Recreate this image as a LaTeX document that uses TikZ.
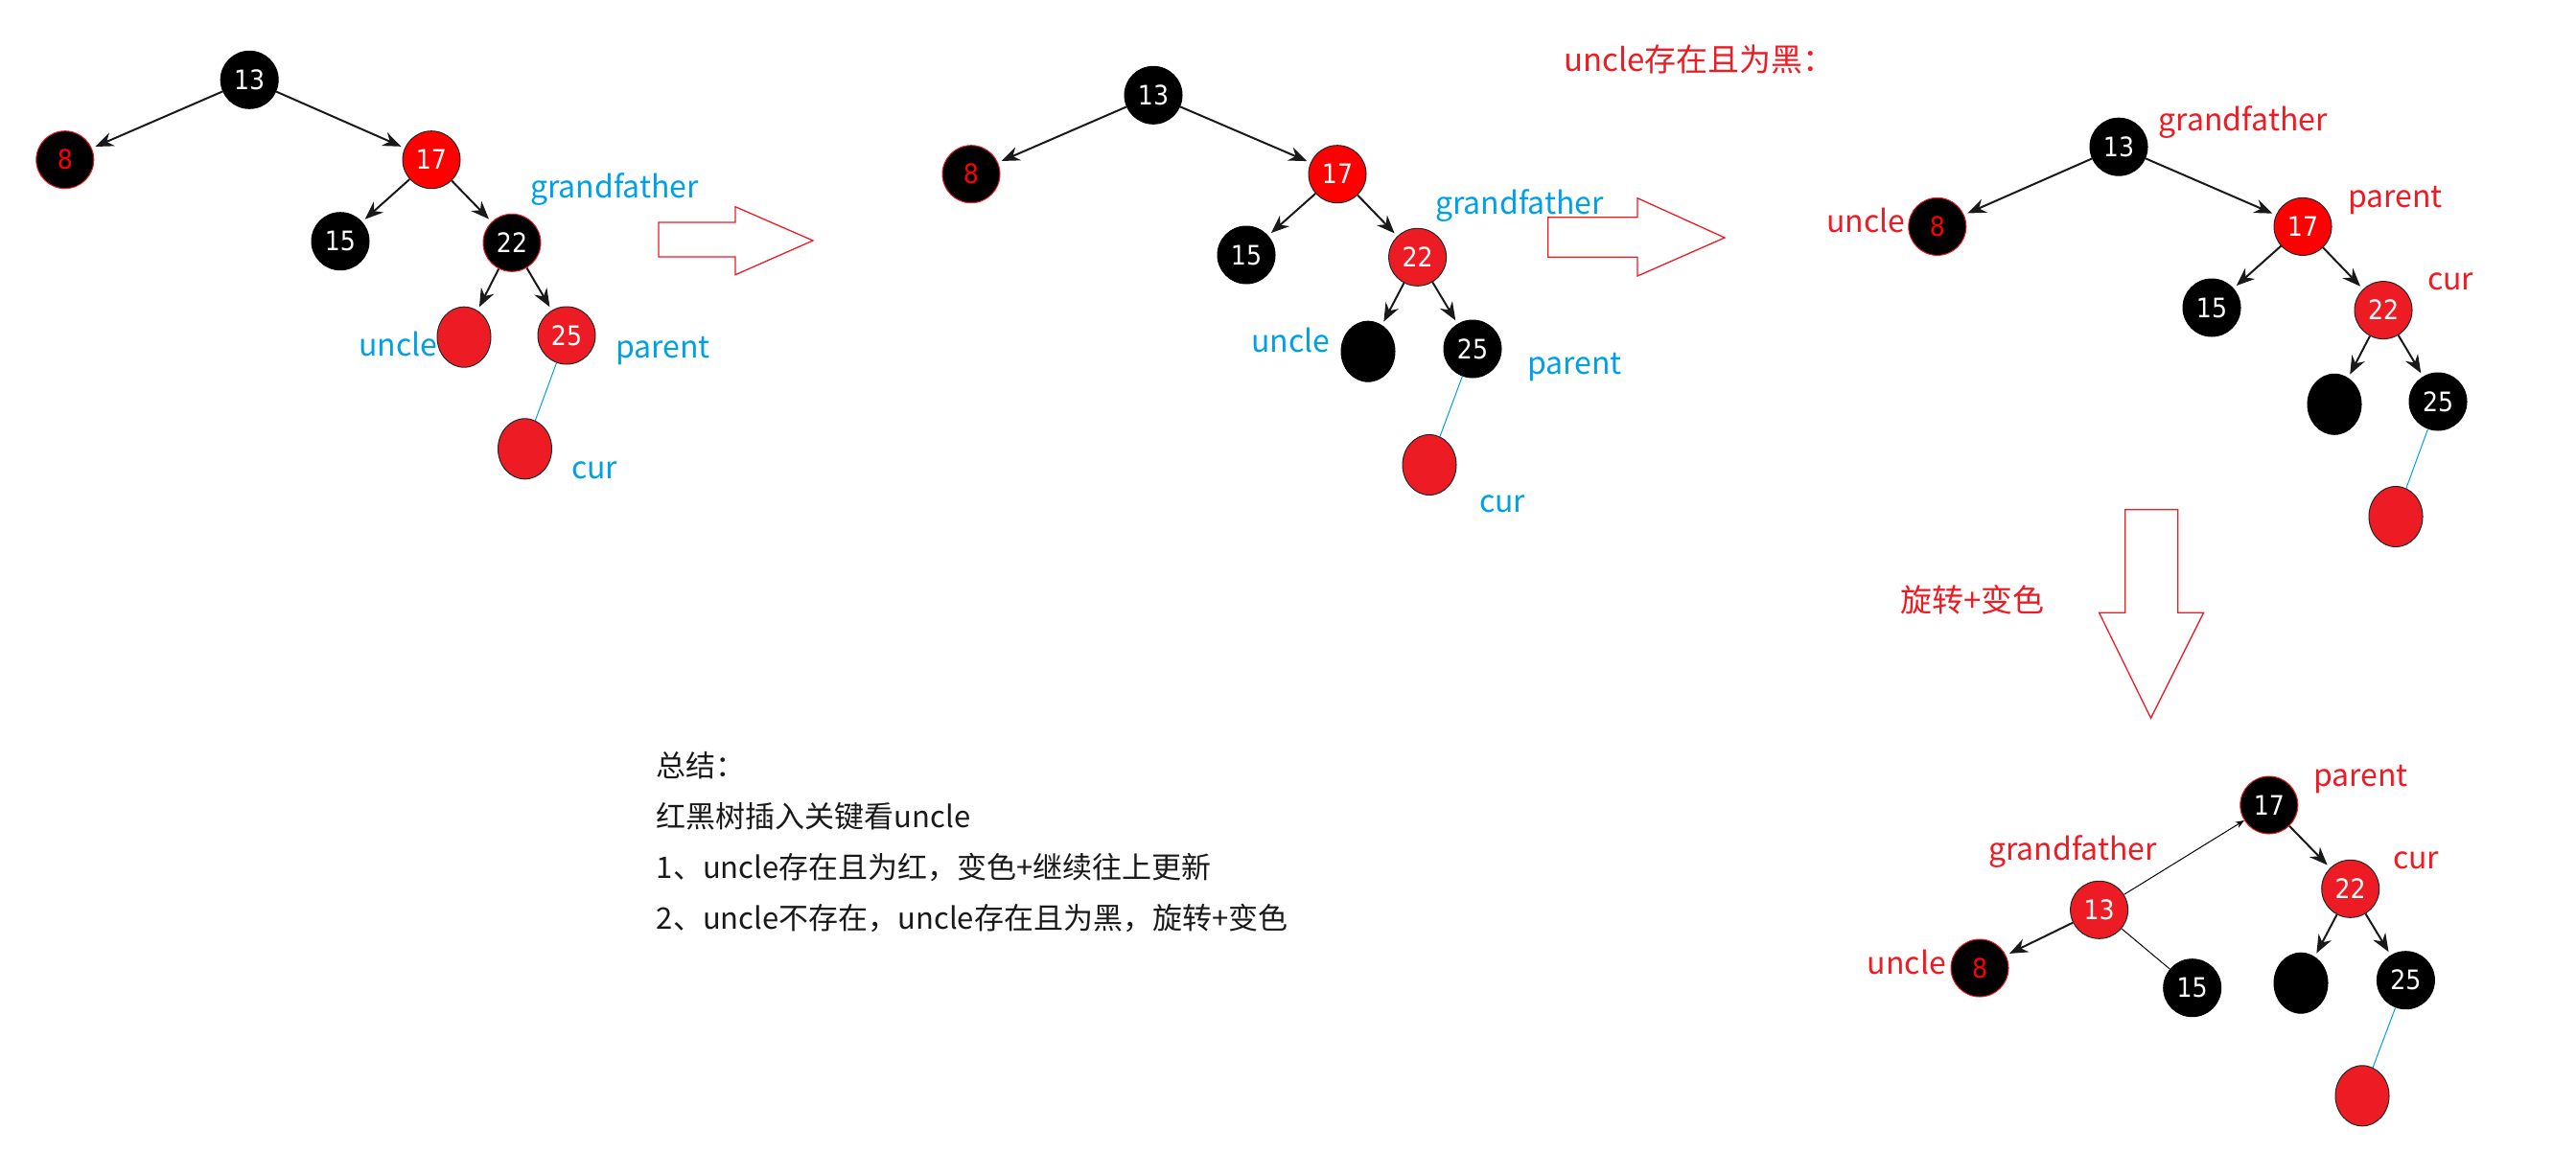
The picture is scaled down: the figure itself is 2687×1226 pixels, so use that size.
\documentclass[tikz,border=0pt]{standalone}
\usepackage{fontspec}
\setmainfont{Noto Sans CJK SC}
\newfontfamily\numfont[FakeStretch=0.9]{DejaVu Sans}
\usetikzlibrary{arrows.meta,shapes.geometric}
\definecolor{bred}{RGB}{237,28,36}
\definecolor{pured}{RGB}{255,0,0}
\definecolor{lblue}{RGB}{0,160,233}
\tikzset{
  nd/.style={circle, minimum size=60pt, inner sep=0pt, line width=1pt,
    font=\numfont\fontsize{28}{28}\selectfont, text=white},
  bk/.style={nd, fill=black, draw=black},
  bkr/.style={nd, fill=black, draw=bred},
  eight/.style={bkr, text=pured},
  rr/.style={nd, fill=pured, draw=black!85},
  rd/.style={nd, fill=bred, draw=black!85},
  ball/.style={ellipse, minimum width=56pt, minimum height=63pt, inner sep=0pt, line width=1pt},
  ballr/.style={ball, fill=bred, draw=black!85},
  ballk/.style={ball, fill=black, draw=black},
  edge/.style={line width=2pt, draw=black!90, -{Stealth[length=19pt,width=15pt]}, shorten >=4pt},
  thinedge/.style={line width=1pt},
  bline/.style={draw=lblue, line width=1pt},
  lab/.style={anchor=base west, inner sep=0pt, font=\fontsize{32}{38}\selectfont},
  bl/.style={lab, text=lblue},
  rl/.style={lab, text=bred},
  sumtxt/.style={anchor=base west, inner sep=0pt, font=\fontsize{31}{38}\selectfont, text=black!90},
  hollow/.style={draw=bred, line width=1.3pt, line join=miter}
}
\begin{document}
\begin{tikzpicture}[x=1pt,y=-1pt]
\useasboundingbox (0,0) rectangle (2687,1226);

% ---------- Tree 1 ----------
\node[bk]    (n13a) at (260.2,83.3) {13};
\node[eight] (n8a)  at (67.8,166.7) {8};
\node[rr]    (n17a) at (450,166.7) {17};
\node[bk]    (n15a) at (355,251.7) {15};
\node[bkr]   (n22a) at (534,253.3) {22};
\node[ballr] (ua)   at (484,351.7) {};
\node[rd]    (n25a) at (591,350) {25};
\node[ballr] (ca)   at (547.5,468.3) {};
\draw[edge] (n13a) -- (n8a);
\draw[edge] (n13a) -- (n17a);
\draw[edge] (n17a) -- (n15a);
\draw[edge] (n17a) -- (n22a);
\draw[edge] (n22a) -- (ua);
\draw[edge] (n22a) -- (n25a);
\draw[bline] (n25a) -- (ca);
\node[bl] (ga) at (553,206.7) {grandfather};
\node[bl] (ula) at (374,371.7) {uncle};
\node[bl] (pa) at (642,373.3) {parent};
\node[bl] (cla) at (596,499.3) {cur};

% hollow arrow 1
\draw[hollow] (687,232) -- (767,232) -- (767,215.7) -- (848,251) -- (767,286.7) -- (767,268) -- (687,268) -- cycle;

% ---------- Tree 2 ----------
\node[bk]    (n13b) at (1203,99.3) {13};
\node[eight] (n8b)  at (1013,181.7) {8};
\node[rr]    (n17b) at (1395,181.7) {17};
\node[bk]    (n15b) at (1300,266) {15};
\node[rd]    (n22b) at (1478.6,268.3) {22};
\node[ballk] (ub)   at (1427,366.7) {};
\node[bk]    (n25b) at (1536,364) {25};
\node[ballr] (cb)   at (1491,485) {};
\draw[edge] (n13b) -- (n8b);
\draw[edge] (n13b) -- (n17b);
\draw[edge] (n17b) -- (n15b);
\draw[edge] (n17b) -- (n22b);
\draw[edge] (n22b) -- (ub);
\draw[edge] (n22b) -- (n25b);
\draw[bline] (n25b) -- (cb);
\node[bl] (gb) at (1497,223.3) {grandfather};
\node[bl] (ulb) at (1305,367.3) {uncle};
\node[bl] (pb) at (1593,390) {parent};
\node[bl] (clb) at (1543,534) {cur};

% hollow arrow 2
\draw[hollow] (1614.7,226.7) -- (1708,226.7) -- (1708,206.7) -- (1799,248) -- (1708,288) -- (1708,268.3) -- (1614.7,268.3) -- cycle;

% ---------- Tree 3 ----------
\node[rl, font=\fontsize{33}{40}\selectfont] (head) at (1631,74.6) {uncle存在且为黑：};
\node[bk]    (n13c) at (2210,153.2) {13};
\node[eight] (n8c)  at (2020.8,236.4) {8};
\node[rr]    (n17c) at (2402,236.4) {17};
\node[bk]    (n15c) at (2307,321) {15};
\node[rd]    (n22c) at (2486,323.6) {22};
\node[ballk] (uc)   at (2435,421.8) {};
\node[bk]    (n25c) at (2543,419) {25};
\node[ballr] (cc)   at (2499,539) {};
\draw[edge] (n13c) -- (n8c);
\draw[edge] (n13c) -- (n17c);
\draw[edge] (n17c) -- (n15c);
\draw[edge] (n17c) -- (n22c);
\draw[edge] (n22c) -- (uc);
\draw[edge] (n22c) -- (n25c);
\draw[bline] (n25c) -- (cc);
\node[rl] (gc) at (2251.6,136.4) {grandfather};
\node[rl] (ulc) at (1905,242.5) {uncle};
\node[rl] (pc) at (2449,216.4) {parent};
\node[rl] (clc) at (2532,302) {cur};

% down hollow arrow
\draw[hollow] (2216.8,531.7) -- (2271.8,531.7) -- (2271.8,639.3) -- (2298.5,639.3) -- (2243.5,749.3) -- (2189.6,639.3) -- (2216.8,639.3) -- cycle;
\node[rl, font=\fontsize{33}{40}\selectfont] (rot) at (1982,638) {旋转+变色};

% ---------- Tree 4 ----------
\node[bkr]   (n17d) at (2366.8,840) {17};
\node[rd]    (n13d) at (2189.6,949.3) {13};
\node[rd]    (n22d) at (2451.7,927.3) {22};
\node[eight] (n8d)  at (2065,1010) {8};
\node[bk]    (n15d) at (2286.7,1030.7) {15};
\node[ballk] (ud)   at (2400,1025.7) {};
\node[bk]    (n25d) at (2509.4,1022.7) {25};
\node[ballr] (cd)   at (2464,1143.3) {};
\draw[thinedge, -{Stealth[length=9pt,width=7pt]}] (n13d) -- (n17d);
\draw[thinedge] (n13d) -- (n15d);
\draw[edge] (n13d) -- (n8d);
\draw[edge] (n17d) -- (n22d);
\draw[edge] (n22d) -- (ud);
\draw[edge] (n22d) -- (n25d);
\draw[bline] (n25d) -- (cd);
\node[rl] (pd) at (2413,820.7) {parent};
\node[rl] (gd) at (2074,897.3) {grandfather};
\node[rl] (cld) at (2496,906) {cur};
\node[rl] (uld) at (1947.7,1016) {uncle};

% ---------- Summary ----------
\node[sumtxt] (s1) at (684.7,810) {总结：};
\node[sumtxt] (s2) at (684.7,863) {红黑树插入关键看uncle};
\node[sumtxt] (s3) at (684.7,916) {1、uncle存在且为红，变色+继续往上更新};
\node[sumtxt] (s4) at (684.7,969) {2、uncle不存在，uncle存在且为黑，旋转+变色};
\end{tikzpicture}
\end{document}
